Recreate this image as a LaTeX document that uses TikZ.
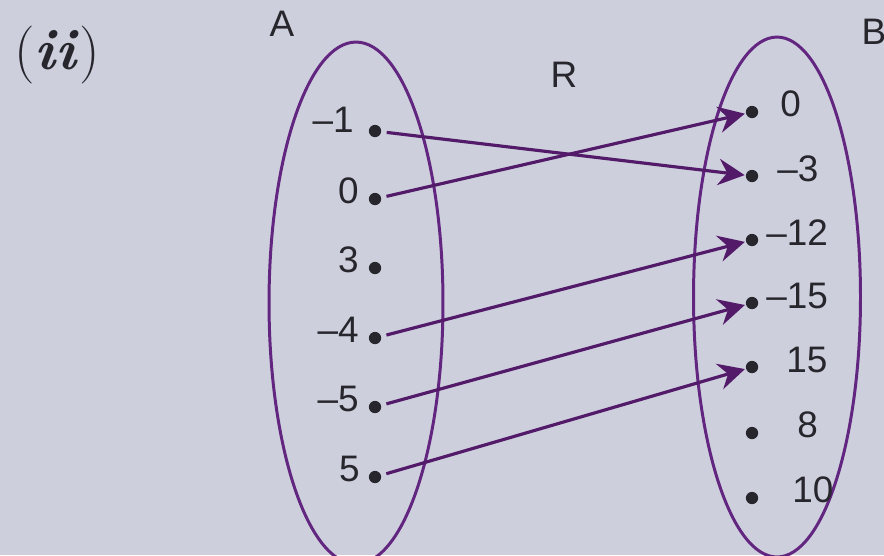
\documentclass[tikz,border=0pt]{standalone}
\usepackage{fontspec}
\usetikzlibrary{arrows.meta,shapes.geometric}
\newfontfamily\lblfont{Liberation Sans}
\definecolor{pagebg}{RGB}{205,207,221}
\definecolor{ovalpurple}{RGB}{98,38,128}
\definecolor{arrpurple}{RGB}{82,26,104}
\definecolor{inkgray}{RGB}{38,38,44}

\begin{document}
\begin{tikzpicture}[
  x=0.02cm, y=-0.02cm,
  setoval/.style={ellipse, draw=ovalpurple, line width=1.7pt, inner sep=0pt},
  elemdot/.style={circle, fill=inkgray, inner sep=0pt, minimum size=7pt},
  elemlabel/.style={font=\lblfont\fontsize{21}{24}\selectfont, text=inkgray,
                    inner sep=0pt},
  setlabel/.style={font=\lblfont\fontsize{21}{24}\selectfont, text=inkgray,
                   inner sep=0pt},
  arr/.style={-{Stealth[length=15pt, width=15pt, inset=5pt]}, draw=arrpurple,
              line width=1.8pt, shorten <=3pt, shorten >=0.5pt}
]
  % page
  \useasboundingbox (0,0) rectangle (884,555);
  \clip (0,0) rectangle (884,555);
  \fill[pagebg] (0,0) rectangle (884,555);

  % part label and set names
  \node[font=\fontsize{33}{38}\selectfont, text=inkgray, inner sep=0pt] (part) at (57,55) {(\textbf{\textit{ii}})};
  \node[setlabel] (nameA) at (282,24) {A};
  \node[setlabel] (nameR) at (564,75) {R};
  \node[setlabel] (nameB) at (874,32) {B};

  % the two sets
  \node[setoval, minimum width=3.48cm, minimum height=10.44cm] (setA) at (356,303) {};
  \node[setoval, minimum width=3.34cm, minimum height=10.4cm] (setB) at (777,297) {};

  % Set A
  \node[elemdot] (a1) at (375,131) {};
  \node[elemdot] (a2) at (375,199) {};
  \node[elemdot] (a3) at (375,268) {};
  \node[elemdot] (a4) at (375,338) {};
  \node[elemdot] (a5) at (375,407) {};
  \node[elemdot] (a6) at (375,477) {};
  \node[elemlabel, anchor=east] (la1) at (354,120) {–1};
  \node[elemlabel, anchor=east] (la2) at (359,191) {0};
  \node[elemlabel, anchor=east] (la3) at (359,260) {3};
  \node[elemlabel, anchor=east] (la4) at (359,330) {–4};
  \node[elemlabel, anchor=east] (la5) at (359,399) {–5};
  \node[elemlabel, anchor=east] (la6) at (360,469) {5};

  % Set B
  \node[elemdot] (b1) at (752,112) {};
  \node[elemdot] (b2) at (752,176) {};
  \node[elemdot] (b3) at (752,240) {};
  \node[elemdot] (b4) at (752,303) {};
  \node[elemdot] (b5) at (752,367) {};
  \node[elemdot] (b6) at (752,433) {};
  \node[elemdot] (b7) at (752,498) {};
  \node[elemlabel, anchor=west] (lb1) at (780,104) {0};
  \node[elemlabel, anchor=west] (lb2) at (777,169) {–3};
  \node[elemlabel, anchor=west] (lb3) at (766,233) {–12};
  \node[elemlabel, anchor=west] (lb4) at (766,296) {–15};
  \node[elemlabel, anchor=west] (lb5) at (786,360) {15};
  \node[elemlabel, anchor=west] (lb6) at (797,425) {8};
  \node[elemlabel, anchor=west] (lb7) at (792,490) {10};

  % relation R
  \draw[arr] (a1) -- (b2);
  \draw[arr] (a2) -- (b1);
  \draw[arr] (a4) -- (b3);
  \draw[arr] (a5) -- (b4);
  \draw[arr] (a6) -- (b5);
\end{tikzpicture}
\end{document}
